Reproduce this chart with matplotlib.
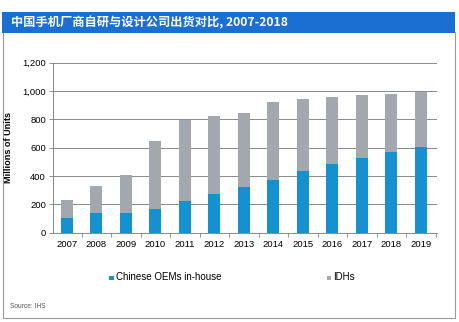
import matplotlib.pyplot as plt
from matplotlib.patches import Rectangle
import numpy as np

plt.rcParams['font.family'] = ['Liberation Sans', 'DejaVu Sans']

years = ["2007", "2008", "2009", "2010", "2011", "2012", "2013",
         "2014", "2015", "2016", "2017", "2018", "2019"]
oem_inhouse = [106, 136, 141, 169, 224, 275, 325, 374, 433, 487, 529, 569, 607]
total = [231, 332, 405, 647, 795, 824, 845, 925, 941, 958, 974, 979, 991]
idhs = [t - o for t, o in zip(total, oem_inhouse)]

BLUE = "#1591d0"
GREY = "#a2a8ad"
TITLE_BLUE = "#1b6fd2"

W, H = 460, 322
fig = plt.figure(figsize=(W / 100, H / 100), dpi=100)

def fx(px):
    return px / W

def fy(py):
    return 1 - py / H

# outer frame and title bar
fig.patches.append(Rectangle((fx(3), fy(318)), fx(452), (318 - 32) / H,
                             transform=fig.transFigure, facecolor="white",
                             edgecolor="#9a9a9a", linewidth=0.8, zorder=-2))
fig.patches.append(Rectangle((fx(2), fy(33)), fx(453), (33 - 12) / H,
                             transform=fig.transFigure, facecolor=TITLE_BLUE,
                             edgecolor="none", zorder=-1))
fig.text(fx(11), fy(22.5), "中国手机厂商自研与设计公司出货对比, 2007-2018",
         color="white", fontsize=8.8, fontweight="bold", va="center",
         family=["Noto Sans CJK SC", "DejaVu Sans"])

ax = fig.add_axes([fx(53), fy(232.7), fx(437 - 53), (232.7 - 62.7) / H])
ax.set_zorder(5)
ax.patch.set_alpha(0)
x = np.arange(len(years))
ax.bar(x, oem_inhouse, width=0.4, color=BLUE, label="Chinese OEMs in-house", zorder=3)
ax.bar(x, idhs, width=0.4, bottom=oem_inhouse, color=GREY, label="IDHs", zorder=3)

ax.set_xlim(-0.47, len(years) - 0.45)
ax.set_ylim(0, 1200)
ax.set_yticks(range(0, 1201, 200))
ax.set_yticklabels([f"{v:,}" for v in range(0, 1201, 200)], fontsize=6.8)
ax.set_xticks(x)
ax.set_xticklabels(years, fontsize=6.8)
ax.set_xticks(np.arange(-0.5, len(years), 1)[1:], minor=True)
ax.tick_params(axis="x", which="major", length=0, pad=5)
ax.tick_params(axis="x", which="minor", length=3, color="#808080", width=0.6)
ax.tick_params(axis="y", length=3, color="#808080", width=0.6, pad=2)
ax.grid(True, axis="y", color="#8a8a8a", linewidth=0.7, zorder=0)
for side in ["top", "right"]:
    ax.spines[side].set_visible(False)
ax.spines["left"].set_color("#8a8a8a")
ax.spines["bottom"].set_color("#8a8a8a")
ax.spines["left"].set_linewidth(0.7)
ax.spines["bottom"].set_linewidth(0.7)
ax.set_ylabel("Millions of Units", fontsize=6.6, fontweight="bold", labelpad=7)

# legend laid out under the axis
fig.patches.append(Rectangle((fx(109.5), fy(280)), fx(4.5), 4.5 / H,
                             transform=fig.transFigure, facecolor=BLUE, zorder=2))
fig.text(fx(116), fy(277.5), "Chinese OEMs in-house", fontsize=7, va="center")
fig.patches.append(Rectangle((fx(327), fy(280)), fx(4.5), 4.5 / H,
                             transform=fig.transFigure, facecolor=GREY, zorder=2))
fig.text(fx(333), fy(277.5), "IDHs", fontsize=7, va="center")

fig.text(fx(10), fy(306), "Source: IHS", fontsize=4.8, color="#555555", va="center")

fig.savefig("out.png", dpi=100)
